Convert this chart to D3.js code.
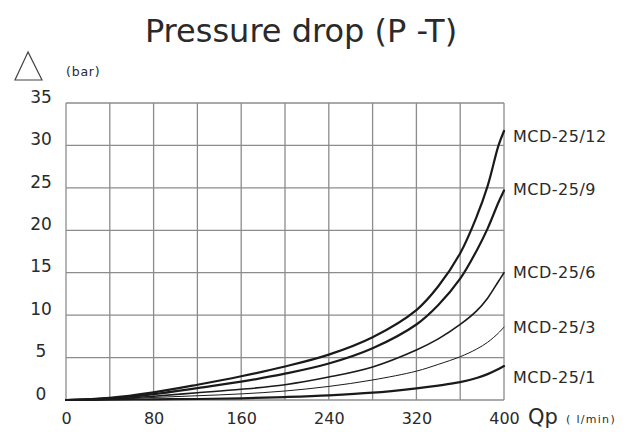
<!DOCTYPE html>
<html>
<head>
<meta charset="utf-8">
<script src="https://cdn.jsdelivr.net/npm/d3@7"></script>
<style>
  html, body { margin: 0; padding: 0; background: #fff; }
  svg { display: block; }
  text { font-family: "DejaVu Sans", sans-serif; fill: #2a2a2a; }
</style>
</head>
<body>
<svg id="chart" width="627" height="432"></svg>
<script>
// ---- data ----
const flow = [0, 40, 80, 120, 160, 200, 240, 280, 320, 340, 360, 375, 385, 395, 400]; // l/min
const mcd12 = [0, 0.25, 0.9, 1.8, 2.8, 3.95, 5.35, 7.4, 10.6, 13.4, 17.3, 21.6, 25.2, 30.0, 31.7];
const mcd9  = [0, 0.2, 0.7, 1.4, 2.16, 3.1, 4.3, 6.1, 8.9, 11.2, 14.3, 17.6, 20.2, 23.3, 24.7];
const mcd6  = [0, 0.12, 0.45, 0.85, 1.26, 1.8, 2.7, 3.9, 5.9, 7.2, 8.9, 10.5, 12.0, 14.0, 15.0];
const mcd3  = [0, 0.08, 0.3, 0.5, 0.72, 1.06, 1.6, 2.36, 3.4, 4.2, 5.1, 6.0, 6.8, 7.9, 8.6];
const mcd1  = [0, 0.03, 0.08, 0.12, 0.2, 0.35, 0.55, 0.86, 1.38, 1.7, 2.1, 2.6, 3.05, 3.65, 4.0];
const seriesNames = ["MCD-25/12", "MCD-25/9", "MCD-25/6", "MCD-25/3", "MCD-25/1"];
const seriesValues = [mcd12, mcd9, mcd6, mcd3, mcd1];
const labelValues = [31.0, 24.75, 15.0, 8.6, 2.7];   // where each name sits on the bar axis
const xTicks = [0, 80, 160, 240, 320, 400];
const yTicks = [0, 5, 10, 15, 20, 25, 30, 35];
const xGrid = d3.range(0, 401, 40);
const yGrid = d3.range(0, 36, 5);

// ---- layout ----
const svg = d3.select("#chart");
const x = d3.scaleLinear().domain([0, 400]).range([66, 504]);
const y = d3.scaleLinear().domain([0, 35]).range([400, 103]);
const widths = [2.2, 2.2, 1.6, 1.0, 2.2];

// grid
const grid = svg.append("g").attr("stroke", "#8c8c8c").attr("stroke-width", 1.3);
grid.selectAll("line.v").data(xGrid).join("line")
  .attr("class", "v")
  .attr("x1", d => x(d)).attr("x2", d => x(d))
  .attr("y1", y(0)).attr("y2", y(35));
grid.selectAll("line.h").data(yGrid).join("line")
  .attr("class", "h")
  .attr("x1", x(0)).attr("x2", x(400))
  .attr("y1", d => y(d)).attr("y2", d => y(d));

// axis labels via d3 axes (no domain, no tick lines)
const xAxis = svg.append("g").attr("transform", `translate(0,${y(0)})`)
  .call(d3.axisBottom(x).tickValues(xTicks).tickSize(0).tickPadding(13).tickFormat(d3.format("d")));
xAxis.select(".domain").remove();
xAxis.selectAll("text").attr("font-size", 16).attr("font-family", "DejaVu Sans").attr("fill", "#2a2a2a");

const yAxis = svg.append("g").attr("transform", `translate(41,0)`)
  .call(d3.axisLeft(y).tickValues(yTicks).tickSize(0).tickPadding(0).tickFormat(d3.format("d")));
yAxis.select(".domain").remove();
yAxis.selectAll("text").attr("font-size", 17).attr("font-family", "DejaVu Sans").attr("fill", "#2a2a2a")
  .attr("text-anchor", "middle").attr("dy", "-0.05em");

// curves
const line = d3.line().x((d, i) => x(flow[i])).y(d => y(d)).curve(d3.curveCatmullRom.alpha(0.5));
svg.append("g").selectAll("path").data(seriesValues).join("path")
  .attr("d", d => line(d))
  .attr("fill", "none")
  .attr("stroke", "#1a1a1a")
  .attr("stroke-width", (d, i) => widths[i])
  .attr("stroke-linecap", "round");

// series names
svg.append("g").selectAll("text").data(seriesNames).join("text")
  .attr("x", 513)
  .attr("y", (d, i) => y(labelValues[i]))
  .attr("dominant-baseline", "central")
  .attr("font-size", 16)
  .attr("letter-spacing", 0.5)
  .text(d => d);

// title
svg.append("text").attr("x", 301).attr("y", 42).attr("text-anchor", "middle")
  .attr("font-size", 32).attr("fill", "#2a2a2a").text("Pressure drop (P -T)");

// delta symbol + unit
svg.append("path")
  .attr("d", d3.line()([[28, 52], [15, 80], [42, 80]]) + "Z")
  .attr("fill", "none").attr("stroke", "#444").attr("stroke-width", 1.2);
svg.append("text").attr("x", 66).attr("y", 76).attr("font-size", 12.5)
  .attr("letter-spacing", 0.8).text("(bar)");

// x unit
svg.append("text").attr("x", 528).attr("y", 424).attr("font-size", 21).text("Qp");
svg.append("text").attr("x", 566).attr("y", 423).attr("font-size", 11)
  .attr("letter-spacing", 1.3).text("( l/min)");
</script>
</body>
</html>
